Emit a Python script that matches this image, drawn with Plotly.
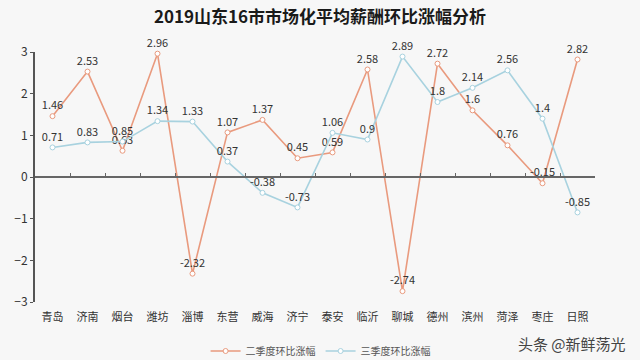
import plotly.graph_objects as go

cities = ["青岛", "济南", "烟台", "潍坊", "淄博", "东营", "威海", "济宁",
          "泰安", "临沂", "聊城", "德州", "滨州", "菏泽", "枣庄", "日照"]
q2 = [1.46, 2.53, 0.63, 2.96, -2.32, 1.07, 1.37, 0.45,
      0.59, 2.58, -2.74, 2.72, 1.6, 0.76, -0.15, 2.82]
q3 = [0.71, 0.83, 0.85, 1.34, 1.33, 0.37, -0.38, -0.73,
      1.06, 0.9, 2.89, 1.8, 2.14, 2.56, 1.4, -0.85]
series_names = ["二季度环比涨幅", "三季度环比涨幅"]
title = "2019山东16市市场化平均薪酬环比涨幅分析"

orange = "#E99A7E"
blue = "#A8D2DF"
font_family = "Noto Sans CJK SC, Noto Sans, sans-serif"

fig = go.Figure()
for name, vals, col in [(series_names[0], q2, orange), (series_names[1], q3, blue)]:
    fig.add_trace(go.Scatter(
        x=cities, y=vals, name=name, mode="lines+markers+text",
        line=dict(color=col, width=1.6),
        marker=dict(symbol="circle", size=5, color="white", line=dict(color=col, width=1)),
        text=[f"{v:g}" for v in vals], textposition="top center",
        textfont=dict(size=11, color="#333333", family=font_family),
        cliponaxis=False,
    ))

# helper trace for the zero-line category axis
fig.add_trace(go.Scatter(x=cities, y=[None] * len(cities), xaxis="x2",
                         showlegend=False, hoverinfo="skip", mode="lines"))

fig.update_layout(
    width=640, height=360,
    margin=dict(l=35, r=45, t=52, b=58, autoexpand=False),
    paper_bgcolor="#F7F7F7", plot_bgcolor="#F7F7F7",
    font=dict(family=font_family, color="#333333"),
    title=dict(text="<b>" + title + "</b>", x=0.5, xanchor="center", y=0.953, yanchor="middle",
               font=dict(size=17, color="#1a1a1a", family=font_family)),
    xaxis=dict(type="category", showline=False, showgrid=False, zeroline=False,
               ticks="outside", ticklen=5, tickcolor="rgba(0,0,0,0)",
               tickfont=dict(size=11, color="#333333"), range=[-0.5, 15.5], automargin=False),
    xaxis2=dict(type="category", overlaying="x", anchor="free", position=0.5, side="bottom",
                showline=True, linecolor="#666666", linewidth=1.5, showgrid=False,
                ticks="inside", tickson="boundaries", ticklen=3, tickcolor="#666666",
                showticklabels=False, range=[-0.5, 15.5], automargin=False),
    yaxis=dict(range=[-3, 3], dtick=1, showgrid=False, zeroline=False,
               showline=True, linecolor="#555555", linewidth=2,
               ticks="outside", ticklen=3, tickcolor="#555555", automargin=False,
               tickfont=dict(size=12, color="#333333")),
    legend=dict(orientation="h", x=0.51, xanchor="center", y=-0.196, yanchor="middle",
                font=dict(size=10, color="#555555"), bgcolor="rgba(0,0,0,0)", itemwidth=30),
    showlegend=True,
)

fig.add_annotation(text="头条 @新鲜荡光", xref="paper", yref="paper", x=1.059, y=-0.165,
                   xanchor="right", yanchor="middle", showarrow=False,
                   font=dict(size=15, color="#444444", family=font_family))

fig.write_html("out.html", config={"displayModeBar": False},
               post_script="document.body.style.margin='0';document.body.style.background='#F7F7F7';")
